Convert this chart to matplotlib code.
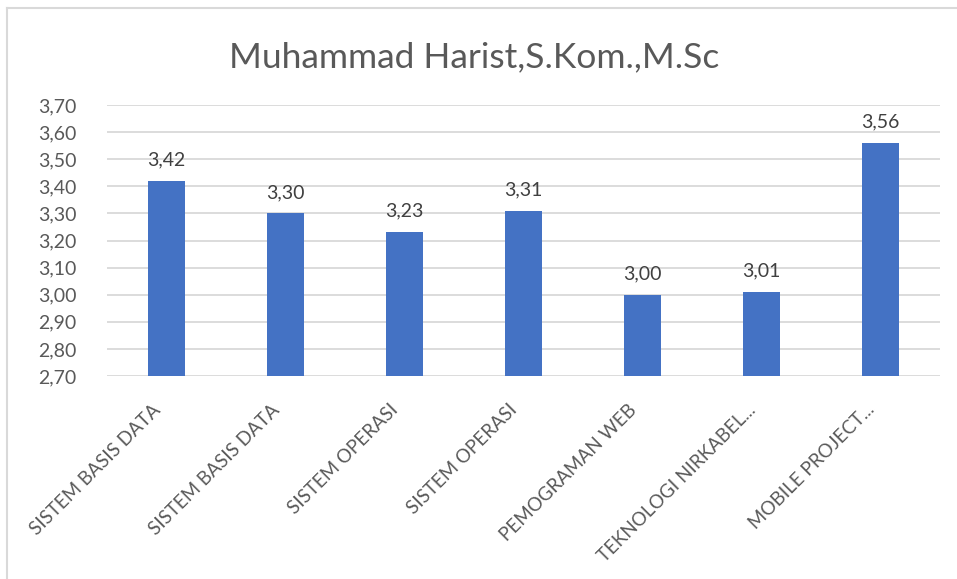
import matplotlib
matplotlib.use("Agg")
import matplotlib.pyplot as plt
import matplotlib.transforms as mtransforms
from matplotlib.lines import Line2D

title = "Muhammad Harist,S.Kom.,M.Sc"
categories = ["SISTEM BASIS DATA", "SISTEM BASIS DATA", "SISTEM OPERASI",
              "SISTEM OPERASI", "PEMOGRAMAN WEB", "TEKNOLOGI NIRKABEL...",
              "MOBILE PROJECT..."]
values = [3.42, 3.30, 3.23, 3.31, 3.00, 3.01, 3.56]
yticks = [2.70, 2.80, 2.90, 3.00, 3.10, 3.20, 3.30, 3.40, 3.50, 3.60, 3.70]

FONT = ["Lato", "DejaVu Sans"]
TXT = "#595959"
plt.rcParams['font.family'] = FONT

fig = plt.figure(figsize=(9.57, 5.79), dpi=100)
ax = fig.add_axes([107/957, 1-376/579, (940-107)/957, (376-105)/579])

x = list(range(len(categories)))
ax.bar(x, values, width=0.31, color="#4472C4", zorder=3)
ax.set_xlim(-0.5, len(categories)-0.5)
ax.set_ylim(2.70, 3.70)
ax.set_yticks(yticks)
ax.set_yticklabels([f"{v:.2f}".replace(".", ",") for v in yticks],
                   fontsize=14, color=TXT)
ax.grid(axis='y', color="#D9D9D9", linewidth=1.3, zorder=0)
for s in ax.spines.values():
    s.set_visible(False)
ax.tick_params(axis='y', length=0, pad=22)
ax.tick_params(axis='x', length=0, pad=18)
ax.set_xticks(x)
ax.set_xticklabels(categories, rotation=45, ha='right', va='top',
                   rotation_mode='anchor', fontsize=13.5, color=TXT)
for lbl in ax.get_xticklabels():
    lbl.set_transform(lbl.get_transform() +
                      mtransforms.ScaledTranslation(-15/100, 0, fig.dpi_scale_trans))

for xi, v in zip(x, values):
    ax.annotate(f"{v:.2f}".replace(".", ","), (xi, v), xytext=(0, 9),
                textcoords='offset points', ha='center', va='bottom',
                fontsize=14, color="#404040")

fig.text(474/957, 1-57/579, title, ha='center', va='center',
         fontsize=25.5, color=TXT)

# chart border (left and top visible)
fig.add_artist(Line2D([7.5/957, 7.5/957], [0, 1-7.5/579], transform=fig.transFigure,
                      color="#D9D9D9", linewidth=1.5))
fig.add_artist(Line2D([7.5/957, 1], [1-7.5/579, 1-7.5/579], transform=fig.transFigure,
                      color="#D9D9D9", linewidth=1.5))

fig.savefig("out.png", dpi=100)
